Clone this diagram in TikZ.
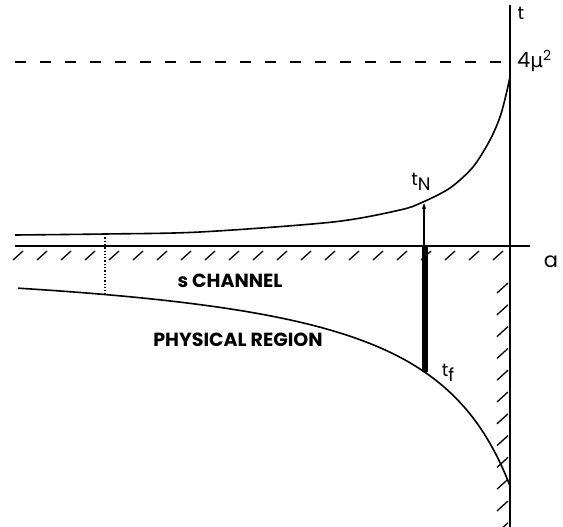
\documentclass[tikz,border=0pt]{standalone}
\usepackage{fontspec}
\setmainfont{Poppins}
\newfontfamily\grk{DejaVu Sans}
\usetikzlibrary{arrows.meta}
\tikzset{
  axis/.style={line width=1.6pt},
  curve/.style={line width=1.6pt},
  hatch/.style={line width=1.3pt},
  lab/.style={inner sep=0pt, font=\fontsize{18}{18}\selectfont},
  region/.style={inner sep=0pt, font=\fontsize{19}{19}\selectfont\bfseries}
}
\begin{document}
\begin{tikzpicture}[x=1pt,y=-1pt]
\useasboundingbox (0,0) rectangle (563,527);
% axes
\draw[axis] (510,5) -- (510,527);
\draw[axis] (15,246) -- (530,246);
% dashed line
\draw[line width=1.3pt, dash pattern=on 11pt off 14pt] (15,62) -- (508,62);
% upper curve
\draw[curve] plot[smooth] coordinates {(15,235) (105,234) (200,232) (333,222) (400,210) (423,202) (450,188) (473,167) (490,140) (500,117) (506,95) (509.5,79)};
% lower curve
\draw[curve] plot[domain=18:510.5, samples=120, variable=\x] ({\x},{252+210.53/((600-\x)/100)});
% hatches along horizontal axis
\foreach \k in {0,...,20} {
  \draw[hatch] ({13+24*\k},260) -- ({23+24*\k},251);
}
% hatches along vertical axis
\foreach \k in {0,...,11} {
  \draw[hatch] (497,{293+21.8*\k}) -- (508,{283+21.8*\k});
}
% dotted line
\draw[line width=1.3pt, dash pattern=on 1.3pt off 2pt] (105,234) -- (105,294);
% thick bar and arrow
\draw[line width=6pt] (425,247) -- (425,372);
\draw[line width=1.1pt, -{Stealth[length=6pt,width=4pt]}] (424,247) -- (424,203);
% labels
\node[lab] (tax) at (521,13) {t};
\node[lab, font=\fontsize{21}{21}\selectfont] (aax) at (551,262) {a};
\node[lab, anchor=west, font=\fontsize{21}{21}\selectfont] (mu) at (517,61) {4{\grk\fontsize{20}{20}\selectfont μ}\raisebox{7pt}{\fontsize{14}{14}\selectfont 2}};
\node[lab] (tN) at (421,182) {t\raisebox{-5pt}{N}};
\node[lab] (tf) at (448,373) {t\raisebox{-5pt}{f}};
\node[region] (sch) at (230,281) {s CHANNEL};
\node[region] (phys) at (238,340) {PHYSICAL REGION};
\end{tikzpicture}
\end{document}
